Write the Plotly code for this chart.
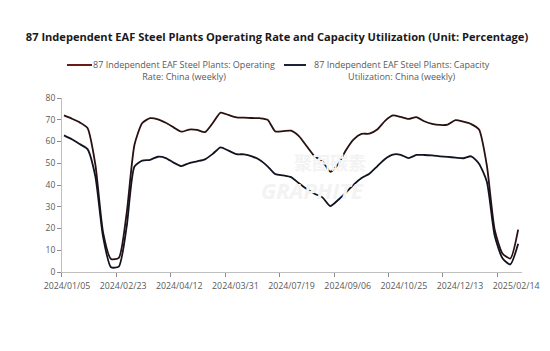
import plotly.graph_objects as go

# ---- data (weekly, 2024/01/05 .. 2025/02/14) ----
week_index = list(range(59))

operating_rate = [
    72.0, 70.5, 68.8, 66.2, 49.5, 18.0, 6.0, 6.5, 27.0, 58.5,
    68.5, 70.7, 70.2, 68.6, 66.5, 64.5, 65.5, 65.3, 64.3, 68.5,
    73.3, 72.2, 71.1, 71.0, 70.8, 70.7, 70.0, 64.6, 64.8, 65.0,
    62.5, 57.8, 53.2, 51.0, 46.1, 49.5, 56.0, 61.0, 63.5, 63.6,
    65.5, 69.5, 72.0, 71.3, 70.4, 71.2, 69.3, 68.1, 67.6, 67.8,
    69.8, 69.1, 68.0, 65.5, 49.0, 19.5, 8.5, 6.2, 19.5,
]

capacity_util = [
    62.8, 61.0, 58.8, 56.5, 44.0, 16.0, 2.2, 2.5, 20.7, 48.5,
    51.2, 51.6, 53.0, 52.4, 50.3, 48.7, 50.1, 50.9, 51.8, 54.3,
    57.3, 55.8, 54.2, 54.1, 53.2, 51.5, 48.6, 45.0, 44.4, 43.6,
    40.8, 38.2, 36.0, 34.3, 30.3, 33.1, 36.5, 40.2, 43.2, 45.2,
    48.6, 52.0, 54.0, 53.9, 52.4, 53.8, 53.8, 53.6, 53.2, 52.9,
    52.6, 52.3, 53.2, 49.8, 41.5, 16.8, 6.3, 3.5, 13.0,
]

tick_labels = [
    "2024/01/05", "2024/02/23", "2024/04/12", "2024/03/31", "2024/07/19",
    "2024/09/06", "2024/10/25", "2024/12/13", "2025/02/14",
]

series_names = [
    "87 Independent EAF Steel Plants: Operating<br>Rate: China (weekly)",
    "87 Independent EAF Steel Plants: Capacity<br>Utilization: China (weekly)",
]

title_text = "87 Independent EAF Steel Plants Operating Rate and Capacity Utilization (Unit: Percentage)"

# ---- styling ----
line_colors = ["#2a1010", "#101320"]
swatch_colors = ["#6b1a1a", "#1c2238"]
font_family = "Open Sans, Noto Sans, Arial, sans-serif"
grey_text = "#595959"
axis_grey = "#bfbfbf"

fig = go.Figure()
for vals, name, col in zip([operating_rate, capacity_util], series_names, line_colors):
    fig.add_trace(go.Scatter(
        x=week_index, y=vals, name=name, mode="lines",
        line=dict(color=col, width=1.8, shape="spline", smoothing=0.6),
        showlegend=False,
    ))

label_pos = [0.38 + 7.17 * k for k in range(len(tick_labels))]

fig.update_layout(
    width=550, height=351,
    margin=dict(l=62, r=28, t=98, b=79),
    paper_bgcolor="white", plot_bgcolor="white",
    font=dict(family=font_family, color=grey_text, size=9),
    title=dict(
        text="<b>" + title_text + "</b>",
        x=277 / 550, xanchor="center", xref="container",
        y=1 - 37 / 351, yanchor="middle", yref="container",
        font=dict(family=font_family, size=11.1, color="#1a1a1a"),
    ),
    xaxis=dict(
        range=[-0.255, 58.49],
        showgrid=False, zeroline=False,
        showline=True, linecolor=axis_grey, linewidth=1,
        tickmode="array", tickvals=label_pos, ticktext=tick_labels,
        ticks="", ticklabelstandoff=5,
        tickfont=dict(size=8.8, color=grey_text),
        minor=dict(tickmode="linear", tick0=-0.26, dtick=6.95,
                   ticks="outside", ticklen=4, tickcolor="#8c8c8c", showgrid=False),
    ),
    yaxis=dict(
        range=[0, 80],
        showgrid=False, zeroline=False,
        showline=True, linecolor=axis_grey, linewidth=1,
        tickmode="linear", tick0=0, dtick=10,
        ticks="outside", ticklen=4, tickcolor="#8c8c8c",
        tickfont=dict(size=8.5, color=grey_text),
    ),
)

# ---- manual legend (centred two-line texts) ----
def px_x(px):
    return (px - 62) / 460.0

def px_y(py):
    return (272 - py) / 174.0

legend_items = [
    dict(sw=(67, 92), text_center=184),
    dict(sw=(284, 306), text_center=402),
]
for item, name, col in zip(legend_items, series_names, swatch_colors):
    fig.add_shape(type="line", xref="paper", yref="paper",
                  x0=px_x(item["sw"][0]), x1=px_x(item["sw"][1]),
                  y0=px_y(65), y1=px_y(65),
                  line=dict(color=col, width=2))
    fig.add_annotation(xref="paper", yref="paper",
                       x=px_x(item["text_center"]), y=px_y(70),
                       xanchor="center", yanchor="middle",
                       text=name, showarrow=False, align="center",
                       font=dict(size=9, color=grey_text, family=font_family))

# faint watermark
fig.add_annotation(xref="paper", yref="paper", x=px_x(330), y=px_y(162),
                   text="<b>聚图碳素</b>", showarrow=False,
                   font=dict(size=18, color="#f3f3f3", family="Noto Sans CJK SC"))
fig.add_annotation(xref="paper", yref="paper", x=px_x(312), y=px_y(190),
                   text="<b><i>GRAPHITE</i></b>", showarrow=False,
                   font=dict(size=22, color="#f3f3f3", family=font_family))

fig.write_html("out.html")
